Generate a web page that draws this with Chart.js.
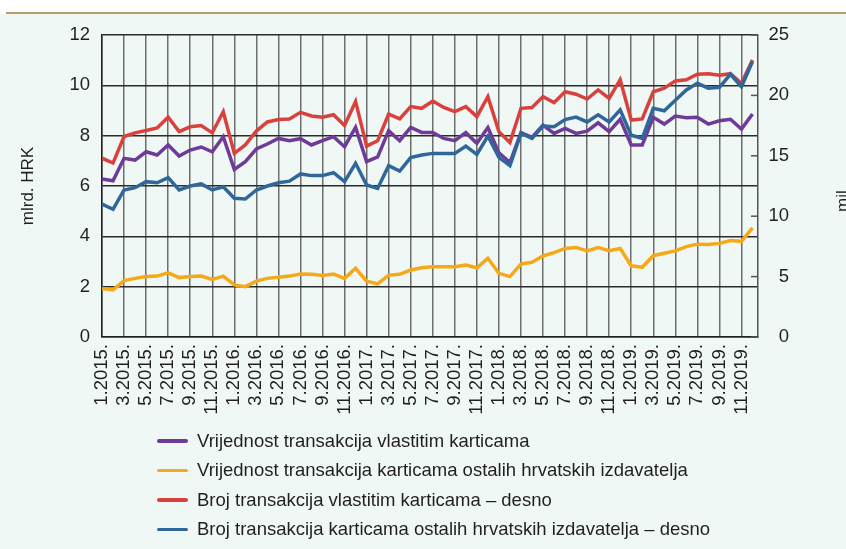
<!DOCTYPE html>
<html>
<head>
<meta charset="utf-8">
<script src="https://cdn.jsdelivr.net/npm/chart.js@4.4.1/dist/chart.umd.min.js"></script>
<style>
  html, body { margin: 0; padding: 0; }
  body { width: 846px; height: 549px; position: relative; overflow: hidden; background: #fff; font-family: 'Liberation Sans', Arial, sans-serif; }
  .rule { position: absolute; left: 6px; right: 0; top: 12px; height: 2px; background: #b99a6b; }
  .panel { position: absolute; left: 0; right: 0; top: 14px; bottom: 0; background: #eff8f5; }
  #chart { position: absolute; left: 0; top: 0; }
  #legend { position: absolute; left: 157px; top: 426px; font-family: 'Liberation Sans', Arial, sans-serif; font-size: 18.5px; color: #231f20; }
  .item { display: flex; align-items: center; height: 29.5px; white-space: nowrap; }
  .swatch { width: 31px; height: 3.5px; margin-right: 9px; border-radius: 2px; }
</style>
</head>
<body>
<div class="rule"></div>
<div class="panel"></div>
<canvas id="chart" width="846" height="549"></canvas>
<div id="legend"></div>

<script>
// months, 1.2015. - 12.2019.
const months = [
  '1.2015.', '2.2015.', '3.2015.', '4.2015.', '5.2015.', '6.2015.', '7.2015.', '8.2015.', '9.2015.', '10.2015.', '11.2015.', '12.2015.',
  '1.2016.', '2.2016.', '3.2016.', '4.2016.', '5.2016.', '6.2016.', '7.2016.', '8.2016.', '9.2016.', '10.2016.', '11.2016.', '12.2016.',
  '1.2017.', '2.2017.', '3.2017.', '4.2017.', '5.2017.', '6.2017.', '7.2017.', '8.2017.', '9.2017.', '10.2017.', '11.2017.', '12.2017.',
  '1.2018.', '2.2018.', '3.2018.', '4.2018.', '5.2018.', '6.2018.', '7.2018.', '8.2018.', '9.2018.', '10.2018.', '11.2018.', '12.2018.',
  '1.2019.', '2.2019.', '3.2019.', '4.2019.', '5.2019.', '6.2019.', '7.2019.', '8.2019.', '9.2019.', '10.2019.', '11.2019.', '12.2019.'
]

// left axis, mlrd. HRK
const ownValue = [
  6.28, 6.21, 7.10, 7.03, 7.36, 7.23, 7.63, 7.19, 7.43, 7.55, 7.36, 7.96,
  6.66, 6.97, 7.47, 7.67, 7.89, 7.80, 7.88, 7.63, 7.80, 7.96, 7.56, 8.33,
  6.97, 7.16, 8.20, 7.80, 8.33, 8.13, 8.13, 7.89, 7.80, 8.12, 7.70, 8.32,
  7.32, 6.93, 8.12, 7.93, 8.42, 8.09, 8.29, 8.09, 8.18, 8.51, 8.16, 8.65,
  7.63, 7.63, 8.73, 8.46, 8.78, 8.71, 8.73, 8.46, 8.59, 8.65, 8.26, 8.86
]
const otherValue = [
  1.93, 1.87, 2.24, 2.33, 2.40, 2.42, 2.55, 2.36, 2.40, 2.42, 2.29, 2.42,
  2.07, 2.00, 2.22, 2.33, 2.37, 2.42, 2.50, 2.49, 2.44, 2.50, 2.33, 2.73,
  2.22, 2.11, 2.46, 2.49, 2.66, 2.75, 2.79, 2.79, 2.79, 2.86, 2.75, 3.13,
  2.53, 2.40, 2.90, 2.97, 3.22, 3.35, 3.52, 3.56, 3.42, 3.55, 3.43, 3.52,
  2.83, 2.77, 3.23, 3.33, 3.42, 3.59, 3.69, 3.68, 3.72, 3.83, 3.80, 4.34
]

// right axis, mil.
const ownCount = [
  14.8, 14.4, 16.6, 16.9, 17.1, 17.3, 18.2, 17.0, 17.4, 17.5, 16.9, 18.65,
  15.2, 15.9, 17.05, 17.8, 18.0, 18.05, 18.6, 18.3, 18.2, 18.4, 17.5, 19.5,
  15.8, 16.25, 18.46, 18.05, 19.07, 18.93, 19.54, 19.0, 18.65, 19.07, 18.24, 19.9,
  17.0, 16.1, 18.93, 19.0, 19.9, 19.4, 20.3, 20.1, 19.7, 20.45, 19.76, 21.3,
  17.96, 18.05, 20.3, 20.6, 21.2, 21.3, 21.75, 21.8, 21.66, 21.8, 21.0, 22.93
]
const otherCount = [
  11.0, 10.57, 12.17, 12.36, 12.86, 12.77, 13.2, 12.17, 12.5, 12.67, 12.17, 12.44,
  11.48, 11.42, 12.17, 12.5, 12.77, 12.9, 13.5, 13.36, 13.36, 13.6, 12.86, 14.38,
  12.58, 12.3, 14.18, 13.74, 14.85, 15.07, 15.2, 15.2, 15.2, 15.8, 15.12, 16.64,
  14.87, 14.18, 16.86, 16.45, 17.47, 17.4, 18.0, 18.2, 17.8, 18.4, 17.8, 18.8,
  16.7, 16.45, 18.93, 18.73, 19.6, 20.45, 21.0, 20.6, 20.67, 21.75, 20.72, 22.8
]

const series = [
  { label: 'Vrijednost transakcija vlastitim karticama', data: ownValue, color: '#6f3a98', axis: 'y', order: 4 },
  { label: 'Vrijednost transakcija karticama ostalih hrvatskih izdavatelja', data: otherValue, color: '#f5a918', axis: 'y', order: 3 },
  { label: 'Broj transakcija vlastitim karticama – desno', data: ownCount, color: '#da413d', axis: 'y2', order: 2 },
  { label: 'Broj transakcija karticama ostalih hrvatskih izdavatelja – desno', data: otherCount, color: '#30679a', axis: 'y2', order: 1 }
]

Chart.defaults.font.family = "'Liberation Sans', Arial, sans-serif"
Chart.defaults.font.size = 18.5
Chart.defaults.color = '#231f20'

// inward ticks on the right axis + the clipped right title
const rightExtras = {
  id: 'rightExtras',
  afterDraw(chart) {
    const { ctx, chartArea } = chart
    const y2 = chart.scales.y2
    ctx.save()
    ctx.strokeStyle = '#555'
    ctx.lineWidth = 1.5
    y2.ticks.forEach(t => {
      const y = y2.getPixelForValue(t.value)
      ctx.beginPath(); ctx.moveTo(chartArea.right - 7, y); ctx.lineTo(chartArea.right, y); ctx.stroke()
    })
    ctx.translate(848, 212)
    ctx.rotate(-Math.PI / 2)
    ctx.font = "17px 'Liberation Sans', Arial, sans-serif"
    ctx.fillStyle = '#231f20'
    ctx.textAlign = 'left'
    ctx.textBaseline = 'alphabetic'
    ctx.fillText('mil.', 0, 0)
    ctx.restore()
  }
}

new Chart(document.getElementById('chart'), {
  type: 'line',
  data: {
    datasets: series.map(s => ({
      label: s.label,
      data: s.data.map((v, i) => ({ x: i, y: v })),
      borderColor: s.color,
      backgroundColor: s.color,
      yAxisID: s.axis,
      order: s.order,
      borderWidth: 3.5,
      pointRadius: 0,
      tension: 0
    }))
  },
  options: {
    responsive: false,
    animation: false,
    layout: { padding: { left: 0, top: 35, right: 57, bottom: 132 } },
    plugins: { legend: { display: false }, tooltip: { enabled: false } },
    scales: {
      x: {
        type: 'linear', min: 0, max: 59.5,
        afterBuildTicks: s => { s.ticks = months.map((m, i) => i).filter(i => i % 2 === 0).map(v => ({ value: v })) },
        afterFit: s => { s.height = 80 },
        grid: { color: '#6e6e6e', lineWidth: 1.5, drawTicks: false },
        border: { color: '#222', width: 1.5 },
        ticks: { autoSkip: false, minRotation: 90, maxRotation: 90, padding: 7, callback: v => months[v] ?? '' }
      },
      y: {
        position: 'left', min: 0, max: 12,
        afterFit: s => { s.width = 102 },
        ticks: { stepSize: 2, padding: 12 },
        grid: { color: '#2b2b2b', lineWidth: 1.5, drawTicks: false },
        border: { color: '#222', width: 1.5 },
        title: { display: true, text: 'mlrd. HRK', font: { size: 17 }, padding: { top: 18, bottom: 0 } }
      },
      y2: {
        position: 'right', min: 0, max: 25,
        afterFit: s => { s.width = 31 },
        ticks: { stepSize: 5, padding: 10, crossAlign: 'far' },
        grid: { drawOnChartArea: false, drawTicks: false },
        border: { color: '#555', width: 1.5 }
      }
    }
  },
  plugins: [rightExtras]
})

// legend below the chart
document.getElementById('legend').innerHTML = series.map(s => `
  <div class="item"><span class="swatch" style="background:${s.color}"></span>${s.label}</div>`).join('')
</script>
</body>
</html>
